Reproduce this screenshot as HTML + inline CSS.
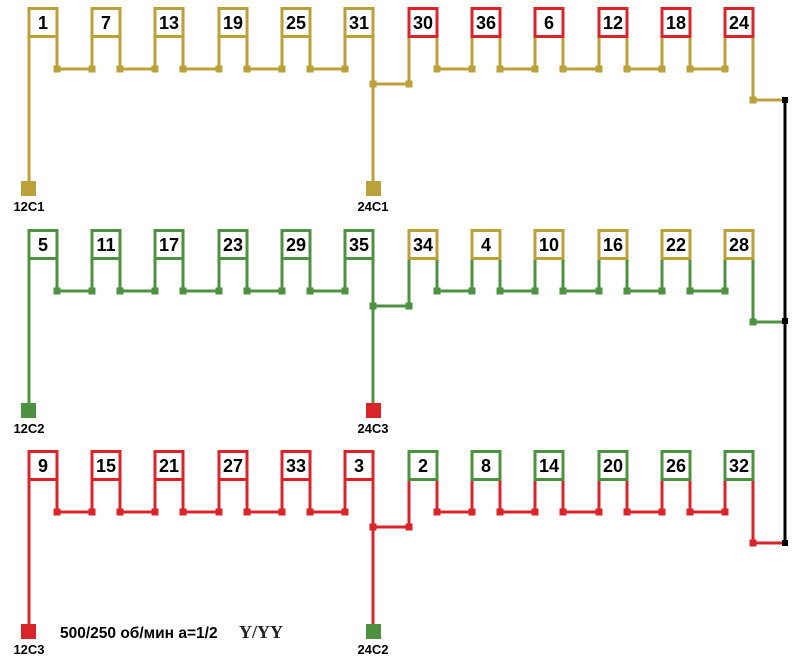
<!DOCTYPE html>
<html><head><meta charset="utf-8">
<style>
html,body{margin:0;padding:0;background:#fff;}
svg{display:block;}
text{font-family:"Liberation Sans",Arial,sans-serif;font-weight:bold;fill:#000;}
.n{font-size:18px;text-anchor:middle;}
.l{font-size:13px;text-anchor:middle;}
.w{fill:none;stroke-width:3;stroke-linejoin:miter;stroke-linecap:square;}
.bx{fill:#fff;stroke-width:3;}
</style></head><body>
<svg width="806" height="664" viewBox="0 0 806 664" xmlns="http://www.w3.org/2000/svg">
<defs>
<g id="wires">
<path class="w" d="M29,37V188 M57,37V69H92V37 M120,37V69H155V37 M183,37V69H219V37 M247,37V69H282V37 M310,37V69H345V37 M373,37V188 M373,84H409V37 M437,37V69H472V37 M500,37V69H535V37 M563,37V69H599V37 M627,37V69H662V37 M690,37V69H725V37 M753,37V100H785"/>
<g>
<rect x="54" y="66" width="6" height="6"/><rect x="89" y="66" width="6" height="6"/>
<rect x="117" y="66" width="6" height="6"/><rect x="152" y="66" width="6" height="6"/>
<rect x="180" y="66" width="6" height="6"/><rect x="216" y="66" width="6" height="6"/>
<rect x="244" y="66" width="6" height="6"/><rect x="279" y="66" width="6" height="6"/>
<rect x="307" y="66" width="6" height="6"/><rect x="342" y="66" width="6" height="6"/>
<rect x="434" y="66" width="6" height="6"/><rect x="469" y="66" width="6" height="6"/>
<rect x="497" y="66" width="6" height="6"/><rect x="532" y="66" width="6" height="6"/>
<rect x="560" y="66" width="6" height="6"/><rect x="596" y="66" width="6" height="6"/>
<rect x="624" y="66" width="6" height="6"/><rect x="659" y="66" width="6" height="6"/>
<rect x="687" y="66" width="6" height="6"/><rect x="722" y="66" width="6" height="6"/>
<rect x="370" y="81" width="6" height="6"/><rect x="406" y="81" width="6" height="6"/>
<rect x="750" y="97" width="6" height="6"/>
</g>
</g>
<g id="boxA">
<rect class="bx" x="29" y="8.5" width="28" height="28"/>
<rect class="bx" x="92" y="8.5" width="28" height="28"/>
<rect class="bx" x="155" y="8.5" width="28" height="28"/>
<rect class="bx" x="219" y="8.5" width="28" height="28"/>
<rect class="bx" x="282" y="8.5" width="28" height="28"/>
<rect class="bx" x="345" y="8.5" width="28" height="28"/>
</g>
<g id="boxB">
<rect class="bx" x="409" y="8.5" width="28" height="28"/>
<rect class="bx" x="472" y="8.5" width="28" height="28"/>
<rect class="bx" x="535" y="8.5" width="28" height="28"/>
<rect class="bx" x="599" y="8.5" width="28" height="28"/>
<rect class="bx" x="662" y="8.5" width="28" height="28"/>
<rect class="bx" x="725" y="8.5" width="28" height="28"/>
</g>
</defs>

<line x1="785" y1="100" x2="785" y2="543" stroke="#000" stroke-width="3"/>

<g>
<use href="#wires" stroke="#bba13a" fill="#bba13a"/>
<use href="#boxA" stroke="#bba13a"/>
<use href="#boxB" stroke="#d9252a"/>
<rect x="21" y="181" width="15" height="15" fill="#bba13a"/>
<rect x="366" y="181" width="15" height="15" fill="#bba13a"/>
<text class="l" x="29" y="211">12C1</text>
<text class="l" x="373" y="211">24C1</text>
<text class="n" x="43" y="29">1</text><text class="n" x="106" y="29">7</text>
<text class="n" x="169" y="29">13</text><text class="n" x="233" y="29">19</text>
<text class="n" x="296" y="29">25</text><text class="n" x="359" y="29">31</text>
<text class="n" x="423" y="29">30</text><text class="n" x="486" y="29">36</text>
<text class="n" x="549" y="29">6</text><text class="n" x="613" y="29">12</text>
<text class="n" x="676" y="29">18</text><text class="n" x="739" y="29">24</text>
</g>

<g transform="translate(0,222)">
<use href="#wires" stroke="#4e9140" fill="#4e9140"/>
<use href="#boxA" stroke="#4e9140"/>
<use href="#boxB" stroke="#bba13a"/>
<rect x="21" y="181" width="15" height="15" fill="#4e9140"/>
<rect x="366" y="181" width="15" height="15" fill="#d9252a"/>
<text class="l" x="29" y="211">12C2</text>
<text class="l" x="373" y="211">24C3</text>
<text class="n" x="43" y="29">5</text><text class="n" x="106" y="29">11</text>
<text class="n" x="169" y="29">17</text><text class="n" x="233" y="29">23</text>
<text class="n" x="296" y="29">29</text><text class="n" x="359" y="29">35</text>
<text class="n" x="423" y="29">34</text><text class="n" x="486" y="29">4</text>
<text class="n" x="549" y="29">10</text><text class="n" x="613" y="29">16</text>
<text class="n" x="676" y="29">22</text><text class="n" x="739" y="29">28</text>
</g>

<g transform="translate(0,443)">
<use href="#wires" stroke="#d9252a" fill="#d9252a"/>
<use href="#boxA" stroke="#d9252a"/>
<use href="#boxB" stroke="#4e9140"/>
<rect x="21" y="181" width="15" height="15" fill="#d9252a"/>
<rect x="366" y="181" width="15" height="15" fill="#4e9140"/>
<text class="l" x="29" y="211">12C3</text>
<text class="l" x="373" y="211">24C2</text>
<text class="n" x="43" y="29">9</text><text class="n" x="106" y="29">15</text>
<text class="n" x="169" y="29">21</text><text class="n" x="233" y="29">27</text>
<text class="n" x="296" y="29">33</text><text class="n" x="359" y="29">3</text>
<text class="n" x="423" y="29">2</text><text class="n" x="486" y="29">8</text>
<text class="n" x="549" y="29">14</text><text class="n" x="613" y="29">20</text>
<text class="n" x="676" y="29">26</text><text class="n" x="739" y="29">32</text>
</g>

<rect x="782" y="97" width="6" height="6" fill="#000"/>
<rect x="782" y="318" width="6" height="6" fill="#000"/>
<rect x="782" y="540" width="6" height="6" fill="#000"/>

<text x="60" y="638" style="font-size:15.5px;">500/250 об/мин а=1/2</text>
<text x="239" y="638" style="font-family:'Liberation Serif',serif;font-size:18px;fill:#222;">Y/YY</text>
</svg>
</body></html>
